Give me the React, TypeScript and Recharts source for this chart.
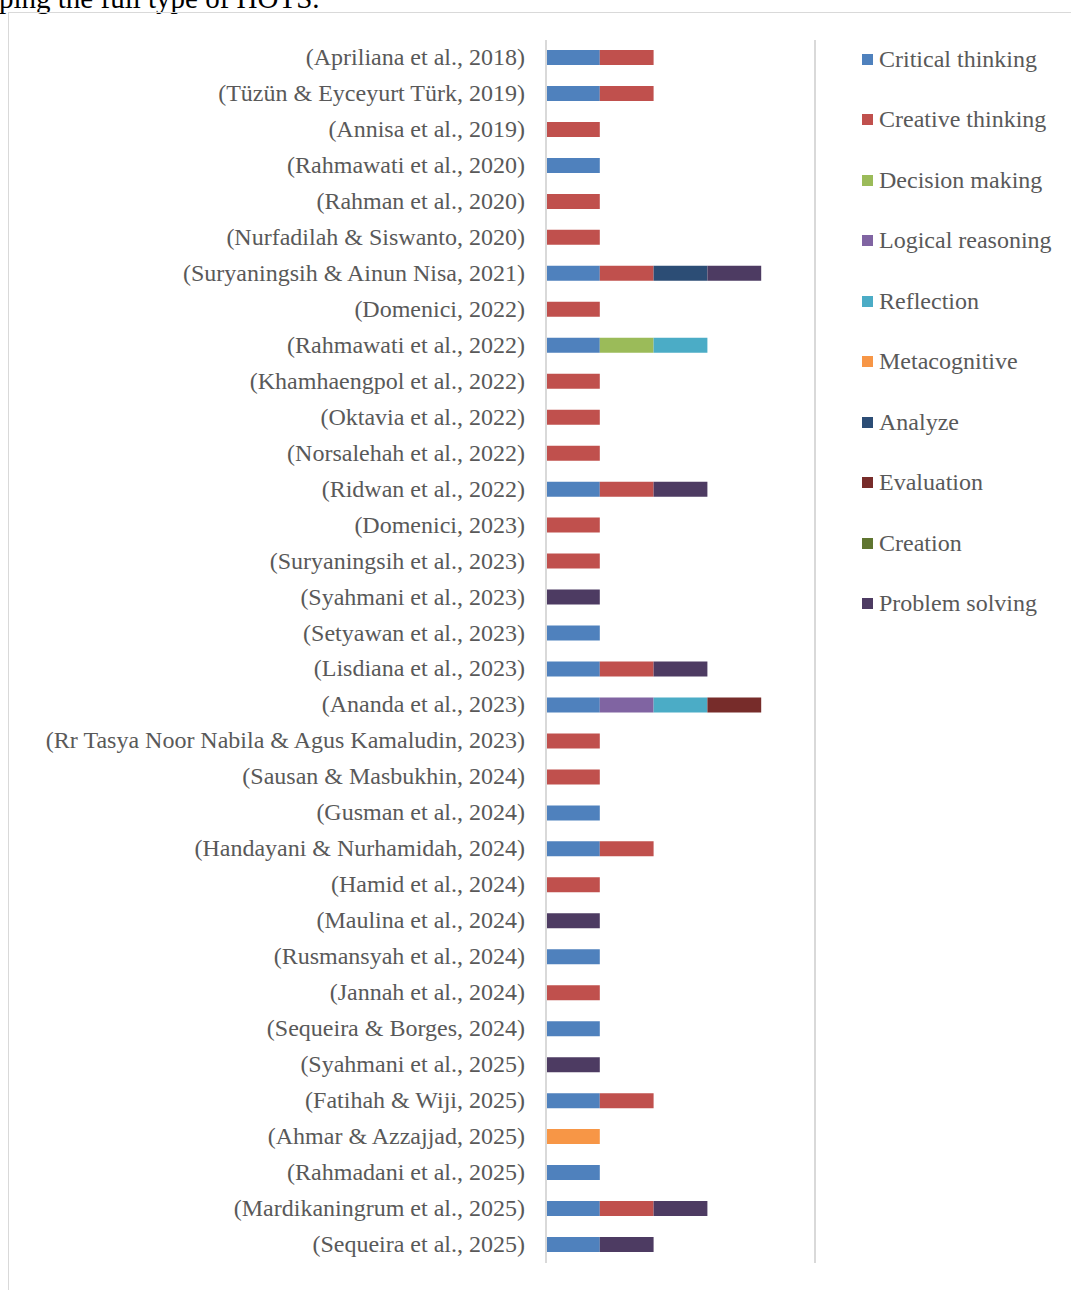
import React from "react";
import { BarChart, Bar, XAxis, YAxis, ReferenceLine, Legend } from "recharts";

const categories = [
  "(Apriliana et al., 2018)",
  "(Tüzün & Eyceyurt Türk, 2019)",
  "(Annisa et al., 2019)",
  "(Rahmawati et al., 2020)",
  "(Rahman et al., 2020)",
  "(Nurfadilah & Siswanto, 2020)",
  "(Suryaningsih & Ainun Nisa, 2021)",
  "(Domenici, 2022)",
  "(Rahmawati et al., 2022)",
  "(Khamhaengpol et al., 2022)",
  "(Oktavia et al., 2022)",
  "(Norsalehah et al., 2022)",
  "(Ridwan et al., 2022)",
  "(Domenici, 2023)",
  "(Suryaningsih et al., 2023)",
  "(Syahmani et al., 2023)",
  "(Setyawan et al., 2023)",
  "(Lisdiana et al., 2023)",
  "(Ananda et al., 2023)",
  "(Rr Tasya Noor Nabila & Agus Kamaludin, 2023)",
  "(Sausan & Masbukhin, 2024)",
  "(Gusman et al., 2024)",
  "(Handayani & Nurhamidah, 2024)",
  "(Hamid et al., 2024)",
  "(Maulina et al., 2024)",
  "(Rusmansyah et al., 2024)",
  "(Jannah et al., 2024)",
  "(Sequeira & Borges, 2024)",
  "(Syahmani et al., 2025)",
  "(Fatihah & Wiji, 2025)",
  "(Ahmar & Azzajjad, 2025)",
  "(Rahmadani et al., 2025)",
  "(Mardikaningrum et al., 2025)",
  "(Sequeira et al., 2025)",
];

const criticalThinking = [1,1,0,1,0,0,1,0,1,0,0,0,1,0,0,0,1,1,1,0,0,1,1,0,0,1,0,1,0,1,0,1,1,1];
const creativeThinking = [1,1,1,0,1,1,1,1,0,1,1,1,1,1,1,0,0,1,0,1,1,0,1,1,0,0,1,0,0,1,0,0,1,0];
const decisionMaking   = [0,0,0,0,0,0,0,0,1,0,0,0,0,0,0,0,0,0,0,0,0,0,0,0,0,0,0,0,0,0,0,0,0,0];
const logicalReasoning = [0,0,0,0,0,0,0,0,0,0,0,0,0,0,0,0,0,0,1,0,0,0,0,0,0,0,0,0,0,0,0,0,0,0];
const reflection       = [0,0,0,0,0,0,0,0,1,0,0,0,0,0,0,0,0,0,1,0,0,0,0,0,0,0,0,0,0,0,0,0,0,0];
const metacognitive    = [0,0,0,0,0,0,0,0,0,0,0,0,0,0,0,0,0,0,0,0,0,0,0,0,0,0,0,0,0,0,1,0,0,0];
const analyze          = [0,0,0,0,0,0,1,0,0,0,0,0,0,0,0,0,0,0,0,0,0,0,0,0,0,0,0,0,0,0,0,0,0,0];
const evaluation       = [0,0,0,0,0,0,0,0,0,0,0,0,0,0,0,0,0,0,1,0,0,0,0,0,0,0,0,0,0,0,0,0,0,0];
const creation         = [0,0,0,0,0,0,0,0,0,0,0,0,0,0,0,0,0,0,0,0,0,0,0,0,0,0,0,0,0,0,0,0,0,0];
const problemSolving   = [0,0,0,0,0,0,1,0,0,0,0,0,1,0,0,1,0,1,0,0,0,0,0,0,1,0,0,0,1,0,0,0,1,1];

const seriesNames = [
  "Critical thinking",
  "Creative thinking",
  "Decision making",
  "Logical reasoning",
  "Reflection",
  "Metacognitive",
  "Analyze",
  "Evaluation",
  "Creation",
  "Problem solving",
];
const seriesColors = [
  "#4F81BD",
  "#C0504D",
  "#9BBB59",
  "#8064A2",
  "#4BACC6",
  "#F79646",
  "#2C4D75",
  "#772C2A",
  "#5F7530",
  "#4D3B62",
];
const seriesValues = [
  criticalThinking,
  creativeThinking,
  decisionMaking,
  logicalReasoning,
  reflection,
  metacognitive,
  analyze,
  evaluation,
  creation,
  problemSolving,
];

const data = categories.map((c, i) => {
  const row: Record<string, any> = { name: c };
  seriesNames.forEach((s, k) => {
    row[s] = seriesValues[k][i];
  });
  return row;
});

const FONT = "'Liberation Serif', 'Times New Roman', serif";

const renderLegend = () => (
  <div style={{ fontFamily: FONT }}>
    {seriesNames.map((s, k) => (
      <div
        key={s}
        style={{ height: 60.5, display: "flex", alignItems: "center" }}
      >
        <span
          style={{
            display: "inline-block",
            width: 11,
            height: 11,
            background: seriesColors[k],
            marginRight: 6,
          }}
        />
        <span style={{ fontSize: 24, color: "#595959", whiteSpace: "nowrap" }}>{s}</span>
      </div>
    ))}
  </div>
);

const CategoryTick = (props: any) => {
  const { x, y, payload } = props;
  return (
    <text
      x={x}
      y={y}
      dy={7}
      textAnchor="end"
      fill="#595959"
      fontSize={24}
      fontFamily={FONT}
    >
      {payload.value}
    </text>
  );
};

export default function App() {
  return (
    <div style={{ position: "absolute", left: 0, top: 0, width: 1071, height: 1290, overflow: "hidden", background: "#fff" }}>
      <div
        style={{
          position: "absolute",
          left: -1,
          top: -16.3,
          fontFamily: FONT,
          fontSize: 29,
          lineHeight: "29px",
          color: "#000",
          whiteSpace: "nowrap",
        }}
      >
        ping the full type of HOTS.
      </div>
      <div
        style={{
          position: "absolute",
          left: 8,
          top: 12,
          width: 1071,
          height: 1290,
          borderTop: "1.5px solid #D9D9D9",
          borderLeft: "1.5px solid #D9D9D9",
        }}
      />
      <div style={{ position: "absolute", left: 0, top: 0 }}>
        <BarChart
          width={1071}
          height={1290}
          data={data}
          layout="vertical"
          margin={{ top: 40, right: 256, bottom: 27, left: 0 }}
          barSize={15}
        >
          <XAxis type="number" domain={[0, 5]} hide />
          <YAxis
            type="category"
            dataKey="name"
            width={546}
            interval={0}
            tickLine={false}
            tickSize={0}
            tickMargin={21}
            axisLine={{ stroke: "#D9D9D9", strokeWidth: 2 }}
            tick={<CategoryTick />}
          />
          <ReferenceLine x={5} stroke="#D9D9D9" strokeWidth={2} />
          <Legend
            layout="horizontal"
            verticalAlign="middle"
            align="center"
            content={renderLegend}
            wrapperStyle={{ left: 862, top: 29, width: 209, height: 605 }}
          />
          {seriesNames.map((s, k) => (
            <Bar
              key={s}
              dataKey={s}
              stackId="a"
              fill={seriesColors[k]}
              isAnimationActive={false}
            />
          ))}
        </BarChart>
      </div>
    </div>
  );
}
